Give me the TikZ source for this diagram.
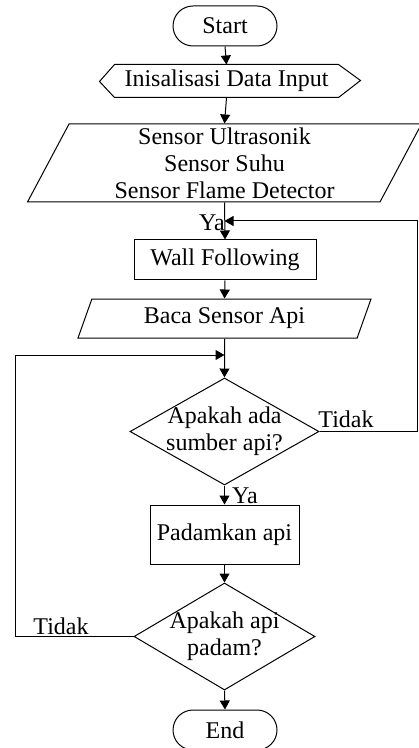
\documentclass[tikz,border=0pt]{standalone}
\usepackage{fontspec}
\setmainfont{Liberation Serif}
\usetikzlibrary{shapes.geometric,shapes.misc,arrows.meta}

\begin{document}
\begin{tikzpicture}
    [x=0.5pt,y=-0.5pt,line width=0.5pt,>={Triangle[length=4.5pt,width=5pt]},
     every node/.style={font=\fontsize{12}{13.5}\selectfont,align=center,inner sep=1pt},
     terminal/.style={rounded rectangle,draw,minimum width=54pt,minimum height=20pt},
     process/.style={rectangle,draw},
     io/.style={trapezium,trapezium left angle=61,trapezium right angle=119,trapezium stretches body,draw},
     decision/.style={diamond,draw,aspect=1.75,inner sep=-3pt},
     prep/.style={rectangle,minimum width=111.5pt,minimum height=16pt}]
    \useasboundingbox (0,0) rectangle (418,748);
    \node[terminal] (start) at (225,26) {Start};
    \node[prep] (init) at (226.5,81) {Inisalisasi Data Input};
    \draw (init.north west) -- (init.north east) -- ++(11pt,-8pt) -- (init.south east)
      -- (init.south west) -- ++(-7.5pt,8pt) -- cycle;
    \node[io,minimum width=197pt,minimum height=39pt] (sensor) at (224.5,163) {Sensor Ultrasonik\\Sensor Suhu\\Sensor Flame Detector};
    \node[process,minimum width=91pt,minimum height=20pt] (wall) at (225,260) {Wall Following};
    \node[io,minimum width=146.5pt,minimum height=19.5pt] (baca) at (224.5,318.5) {Baca Sensor Api};
    \node[decision,minimum width=94.5pt,minimum height=53.5pt] (cek1) at (224.5,431.5) {Apakah ada\\sumber api?};
    \node[process,minimum width=74.5pt,minimum height=29.5pt] (padam) at (224.5,534.5) {Padamkan api};
    \node[decision,minimum width=90.5pt,minimum height=53.5pt] (cek2) at (224.5,636.5) {Apakah api\\padam?};
    \node[terminal] (end) at (225,730) {End};
    \coordinate (j1) at (224.5,221);
    \coordinate (j2) at (224.5,355);
    \coordinate (kanan) at (417,221);
    \coordinate (kiri) at (15,355);
    \foreach \from/\to in {start/init, init/sensor, sensor/wall, wall/baca, baca/cek1, cek1/padam, padam/cek2, cek2/end}
    \draw[->] (\from.south) -- (\to.north);
    \draw[->] (cek1.east) -| (kanan) -- (j1);
    \draw[->] (cek2.west) -| (kiri) -- (j2);
    \node (ya1) at (212,223) {Ya};
    \node (ya2) at (245,495.5) {Ya};
    \node (tidak1) at (346,419.5) {Tidak};
    \node (tidak2) at (61,626.5) {Tidak};
  \end{tikzpicture}
\end{document}
